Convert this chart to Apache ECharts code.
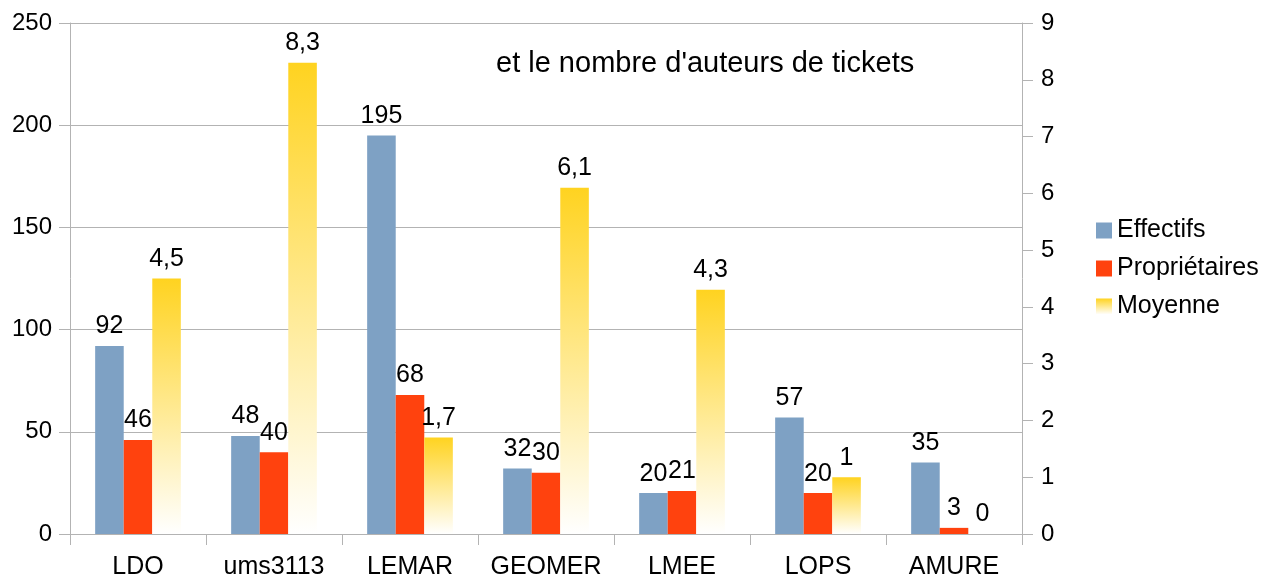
<!DOCTYPE html>
<html>
<head>
<meta charset="utf-8">
<script src="https://cdn.jsdelivr.net/npm/echarts@6/dist/echarts.min.js"></script>
<style>
html,body{margin:0;padding:0;background:#fff;}
#c{width:1264px;height:579px;}
</style>
</head>
<body>
<div id="c"></div>
<script>
var categories = ['LDO', 'ums3113', 'LEMAR', 'GEOMER', 'LMEE', 'LOPS', 'AMURE'];
var effectifs = [92, 48, 195, 32, 20, 57, 35];
var proprietaires = [46, 40, 68, 30, 21, 20, 3];
var moyenne = [4.5, 8.3, 1.7, 6.1, 4.3, 1, 0];
var leftTicks = [0, 50, 100, 150, 200, 250];
var rightTicks = [0, 1, 2, 3, 4, 5, 6, 7, 8, 9];

var FONT = 'Liberation Sans';
var chart = echarts.init(document.getElementById('c'), null, {renderer: 'canvas'});
var gray = '#b3b3b3';
var labelStyle = {show: true, position: 'top', distance: 7, color: '#000', fontFamily: FONT, fontSize: 25};

chart.setOption({
  animation: false,
  backgroundColor: '#fff',
  textStyle: {fontFamily: FONT},
  title: {
    text: "et le nombre d'auteurs de tickets",
    left: 491, top: 44,
    textStyle: {fontFamily: FONT, fontSize: 29, fontWeight: 'normal', color: '#000'}
  },
  legend: {
    orient: 'vertical',
    left: 1091, top: 213,
    itemWidth: 16, itemHeight: 16, itemGap: 13,
    icon: 'rect',
    textStyle: {fontFamily: FONT, fontSize: 25, color: '#000', lineHeight: 25, padding: [0, 0, 0, 0]},
    data: ['Effectifs', 'Propriétaires', 'Moyenne']
  },
  grid: {left: 70, right: 242, top: 23, bottom: 45, containLabel: false, outerBoundsMode: 'none'},
  xAxis: {
    type: 'category',
    data: categories,
    axisLine: {show: true, lineStyle: {color: gray, width: 1}},
    axisTick: {show: true, length: 11, interval: 0, alignWithLabel: false, lineStyle: {color: gray}},
    axisLabel: {color: '#000', fontFamily: FONT, fontSize: 25, margin: 21, interval: 0},
    splitLine: {show: false}
  },
  yAxis: [
    {
      type: 'value', min: 0, max: 250, interval: 50,
      axisLine: {show: true, lineStyle: {color: gray}},
      axisTick: {show: true, length: 11, lineStyle: {color: gray}},
      axisLabel: {color: '#000', fontFamily: FONT, fontSize: 24, margin: 18,
        formatter: function (v) { return leftTicks.indexOf(v) >= 0 ? String(v) : ''; }},
      splitLine: {show: true, lineStyle: {color: gray, width: 1}}
    },
    {
      type: 'value', min: 0, max: 9, interval: 1,
      axisLine: {show: true, lineStyle: {color: gray}},
      axisTick: {show: true, length: 11, lineStyle: {color: gray}},
      axisLabel: {color: '#000', fontFamily: FONT, fontSize: 24, margin: 19,
        formatter: function (v) { return rightTicks.indexOf(v) >= 0 ? String(v) : ''; }},
      splitLine: {show: false}
    }
  ],
  series: [
    {
      name: 'Effectifs', type: 'bar', yAxisIndex: 0, data: effectifs,
      barWidth: '21%', barGap: '0%',
      itemStyle: {color: '#7ea1c4'},
      label: labelStyle
    },
    {
      name: 'Propriétaires', type: 'bar', yAxisIndex: 0, data: proprietaires,
      barWidth: '21%', barGap: '0%',
      itemStyle: {color: '#ff420e'},
      label: labelStyle
    },
    {
      name: 'Moyenne', type: 'bar', yAxisIndex: 1, data: moyenne,
      barWidth: '21%', barGap: '0%',
      itemStyle: {color: new echarts.graphic.LinearGradient(0, 0, 0, 1, [
        {offset: 0, color: '#ffd320'}, {offset: 1, color: '#ffffff'}
      ])},
      label: Object.assign({}, labelStyle, {
        formatter: function (p) { return String(p.value).replace('.', ','); }
      })
    }
  ]
});
</script>
</body>
</html>
